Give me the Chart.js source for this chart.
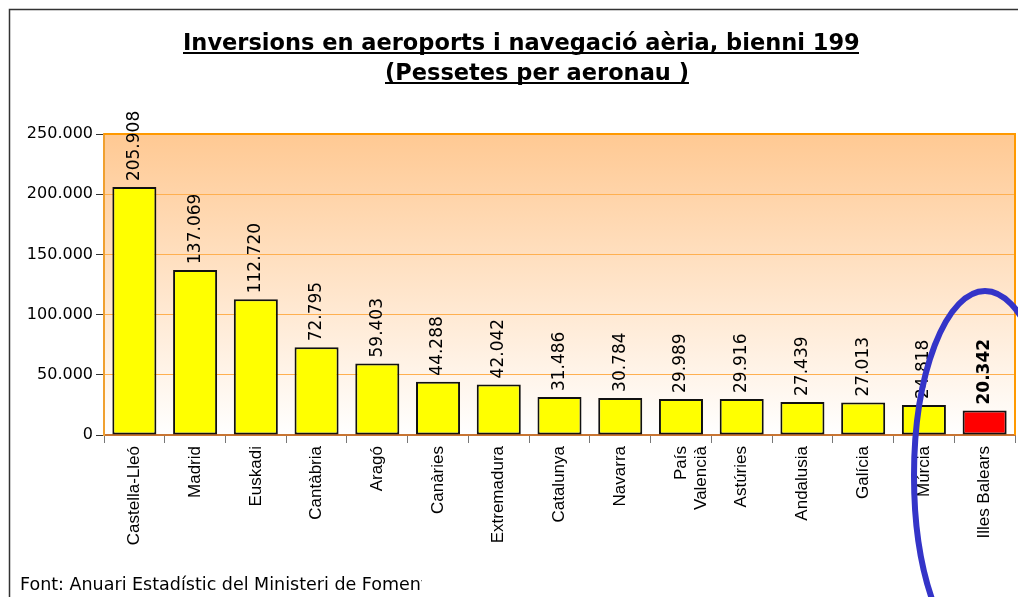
<!DOCTYPE html>
<html>
<head>
<meta charset="utf-8">
<script src="https://cdn.jsdelivr.net/npm/chart.js@4/dist/chart.umd.min.js"></script>
<style>
  html, body { margin: 0; padding: 0; background: #fff; }
  canvas { display: block; }
</style>
</head>
<body>
<canvas id="chart" width="1018" height="597"></canvas>
<script>
const categories = ['Castella-Lleó', 'Madrid', 'Euskadi', 'Cantàbria', 'Aragó', 'Canàries',
    'Extremadura', 'Catalunya', 'Navarra', ['País', 'Valencià'], 'Astúries', 'Andalusia',
    'Galícia', 'Múrcia', 'Illes Balears'];
const values = [205908, 137069, 112720, 72795, 59403, 44288, 42042, 31486, 30784, 29989,
    29916, 27439, 27013, 24818, 20342];
const yTicks = [0, 50000, 100000, 150000, 200000, 250000];
const highlight = 'Illes Balears';

const title = 'Inversions en aeroports i navegació aèria, bienni 1998';
const subtitle = '(Pessetes per aeronau )';
const footer = 'Font: Anuari Estadístic del Ministeri de Foment';

const fmt = v => v.toLocaleString('de-DE');
const isHighlight = i => categories[i] === highlight;

const decor = {
    id: 'decor',
    beforeDraw(chart) {
        const { ctx, chartArea: a } = chart;
        const g = ctx.createLinearGradient(0, a.top, 0, a.bottom);
        g.addColorStop(0, '#FFC993');
        g.addColorStop(1, '#FFFFFF');
        ctx.save();
        ctx.fillStyle = g;
        ctx.fillRect(a.left, a.top, a.right - a.left, a.bottom - a.top);
        ctx.restore();
    },
    afterDraw(chart) {
        const { ctx, chartArea: a } = chart;
        ctx.save();
        // plot frame top / right
        ctx.strokeStyle = '#FF9900';
        ctx.lineWidth = 2;
        ctx.beginPath();
        ctx.moveTo(a.left, a.top);
        ctx.lineTo(a.right, a.top);
        ctx.lineTo(a.right, a.bottom);
        ctx.stroke();

        // value labels
        const meta = chart.getDatasetMeta(0);
        meta.data.forEach((bar, i) => {
            ctx.save();
            ctx.translate(bar.x, bar.y - 6);
            ctx.rotate(-Math.PI / 2);
            ctx.font = (isHighlight(i) ? 'bold ' : '') + '17px "DejaVu Sans"';
            ctx.fillStyle = '#000';
            ctx.textAlign = 'left';
            ctx.textBaseline = 'middle';
            ctx.fillText(fmt(values[i]), 0, 0);
            ctx.restore();
        });

        // outer frame
        ctx.strokeStyle = '#333';
        ctx.lineWidth = 1.5;
        ctx.beginPath();
        ctx.moveTo(9.5, 597);
        ctx.lineTo(9.5, 9.5);
        ctx.lineTo(1018, 9.5);
        ctx.stroke();

        // titles (clipped like the original text box)
        ctx.save();
        ctx.beginPath();
        ctx.rect(20, 15, 839, 80);
        ctx.clip();
        ctx.fillStyle = '#000';
        ctx.font = 'bold 22.5px "DejaVu Sans"';
        ctx.textBaseline = 'alphabetic';
        ctx.textAlign = 'left';
        ctx.fillText(title, 183, 50);
        const tw = ctx.measureText(title).width;
        ctx.fillRect(183, 52, tw, 2);
        const sw = ctx.measureText(subtitle).width;
        ctx.fillText(subtitle, 385, 80);
        ctx.fillRect(385, 82, sw, 2);
        ctx.restore();

        // footer
        ctx.save();
        ctx.beginPath();
        ctx.rect(15, 560, 407, 37);
        ctx.clip();
        ctx.fillStyle = '#000';
        ctx.font = '17.5px "DejaVu Sans"';
        ctx.fillText(footer, 20, 590);
        ctx.restore();

        // hand-drawn highlight ellipse
        ctx.strokeStyle = '#3434C8';
        ctx.lineWidth = 6;
        ctx.beginPath();
        ctx.ellipse(985, 476, 71, 185, 0, 0, Math.PI * 2);
        ctx.stroke();
        ctx.restore();
    }
};

new Chart(document.getElementById('chart'), {
    type: 'bar',
    data: {
        labels: categories,
        datasets: [{
            data: values,
            backgroundColor: values.map((v, i) => isHighlight(i) ? '#FF0000' : '#FFFF00'),
            borderColor: '#111',
            borderWidth: 2,
            borderSkipped: false,
            categoryPercentage: 1,
            barPercentage: 0.725
        }]
    },
    options: {
        responsive: false,
        animation: false,
        layout: { padding: { top: 134, right: 3, left: 0, bottom: 0 } },
        plugins: { legend: { display: false }, tooltip: { enabled: false } },
        scales: {
            x: {
                afterFit: s => { s.height = 162; },
                grid: { display: true, drawOnChartArea: false, tickLength: 8, color: '#777', offset: true },
                border: { color: '#C87533', width: 2 },
                ticks: {
                    autoSkip: false, maxRotation: 90, minRotation: 90, padding: 3,
                    color: '#000', font: { family: '"Liberation Sans"', size: 17 }
                }
            },
            y: {
                min: 0, max: 250000,
                afterFit: s => { s.width = 104; },
                afterBuildTicks: s => { s.ticks = yTicks.map(v => ({ value: v })); },
                grid: { color: '#FFB050', tickColor: '#333', tickLength: 8, lineWidth: 1 },
                border: { color: '#F0A030', width: 2 },
                ticks: {
                    padding: 3, color: '#000',
                    font: { family: '"DejaVu Sans"', size: 16 },
                    callback: v => fmt(v)
                }
            }
        }
    },
    plugins: [decor]
});
</script>
</body>
</html>
